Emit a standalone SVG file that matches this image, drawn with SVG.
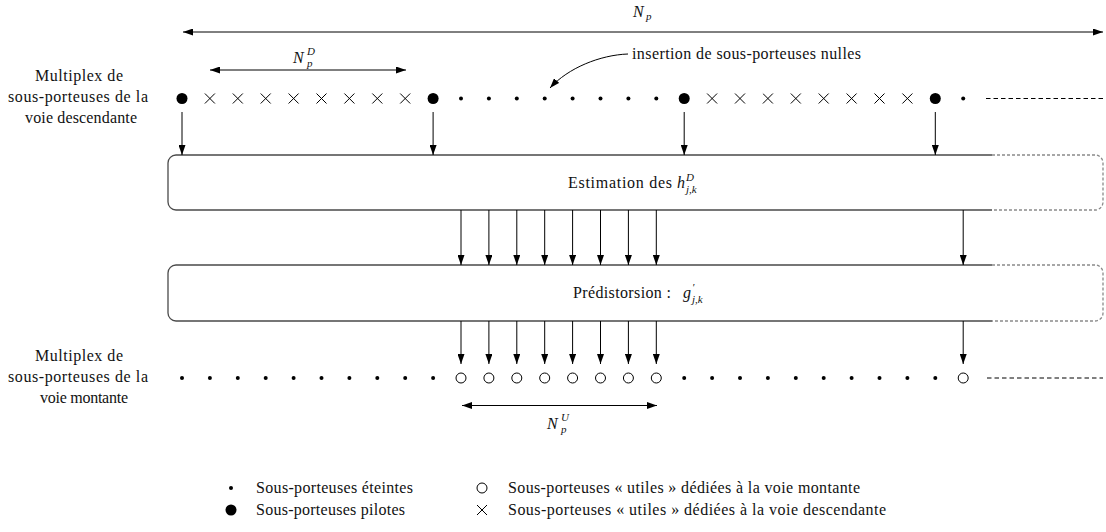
<svg xmlns="http://www.w3.org/2000/svg" width="1106" height="532" viewBox="0 0 1106 532">
<defs>
<style>
text{font-family:'Liberation Serif','DejaVu Serif',serif}
.t{font-size:16px;fill:#111}
.m{font-style:italic;font-size:16px;fill:#111}
.s{font-style:italic;font-size:11px;fill:#111}
.ar{stroke:#000;stroke-width:1;fill:none;marker-end:url(#ah)}
.dar{stroke:#000;stroke-width:1;fill:none;marker-end:url(#ah);marker-start:url(#ahs)}
.box{stroke:#4a4a4a;stroke-width:1.3;fill:none}
.boxd{stroke:#8a8a8a;stroke-width:1.3;fill:none;stroke-dasharray:3 2}
.dash{stroke:#000;stroke-width:1;fill:none;stroke-dasharray:4.5 3}
</style>
<marker id="ah" viewBox="0 0 10 7" refX="10" refY="3.5" markerWidth="10" markerHeight="7" markerUnits="userSpaceOnUse" orient="auto"><path d="M0,0 L10,3.5 L0,7 z" fill="#000"/></marker>
<marker id="ahs" viewBox="0 0 10 7" refX="10" refY="3.5" markerWidth="10" markerHeight="7" markerUnits="userSpaceOnUse" orient="auto-start-reverse"><path d="M0,0 L10,3.5 L0,7 z" fill="#000"/></marker>
<circle id="pil" r="5.5" fill="#000"/>
<circle id="dot" r="2" fill="#000"/>
<circle id="hol" r="5" fill="none" stroke="#000" stroke-width="1"/>
<path id="crs" d="M-5,-5 L5,5 M-5,5 L5,-5" stroke="#000" stroke-width="1" fill="none"/>
</defs>
<rect width="1106" height="532" fill="#fff"/>

<g id="dimension-Np">
<text class="m" x="633" y="17">N</text><text class="s" x="646" y="20">p</text>
</g>
<g id="dimension-NpD">
<text class="m" x="293" y="63">N</text><text class="s" x="307" y="55">D</text><text class="s" x="307" y="67">p</text>
</g>
<g id="dimension-NpU">
<text class="m" x="547" y="429">N</text><text class="s" x="561" y="421">U</text><text class="s" x="561" y="433">p</text>
</g>
<g id="annotation-insertion">
<text class="t" x="632" y="59" textLength="229" lengthAdjust="spacing">insertion de sous-porteuses nulles</text>
</g>

<g id="label-down">
<text class="t" x="79" y="81" text-anchor="middle" textLength="88" lengthAdjust="spacing">Multiplex de</text>
<text class="t" x="78" y="102" text-anchor="middle" textLength="140" lengthAdjust="spacing">sous-porteuses de la</text>
<text class="t" x="81" y="123" text-anchor="middle" textLength="112" lengthAdjust="spacing">voie descendante</text>
</g>
<g id="label-up">
<text class="t" x="79" y="361" text-anchor="middle" textLength="88" lengthAdjust="spacing">Multiplex de</text>
<text class="t" x="78" y="382" text-anchor="middle" textLength="140" lengthAdjust="spacing">sous-porteuses de la</text>
<text class="t" x="84" y="403" text-anchor="middle" textLength="88" lengthAdjust="spacing">voie montante</text>
</g>

<g id="row-down">
<use href="#pil" x="182" y="98.5"/>
<use href="#crs" x="209.9" y="98.5"/><use href="#crs" x="237.8" y="98.5"/><use href="#crs" x="265.7" y="98.5"/><use href="#crs" x="293.6" y="98.5"/>
<use href="#crs" x="321.5" y="98.5"/><use href="#crs" x="349.4" y="98.5"/><use href="#crs" x="377.3" y="98.5"/><use href="#crs" x="405.2" y="98.5"/>
<use href="#pil" x="433.1" y="98.5"/>
<use href="#dot" x="461" y="98.5"/><use href="#dot" x="488.9" y="98.5"/><use href="#dot" x="516.8" y="98.5"/><use href="#dot" x="544.7" y="98.5"/>
<use href="#dot" x="572.6" y="98.5"/><use href="#dot" x="600.5" y="98.5"/><use href="#dot" x="628.4" y="98.5"/><use href="#dot" x="656.3" y="98.5"/>
<use href="#pil" x="684.2" y="98.5"/>
<use href="#crs" x="712.1" y="98.5"/><use href="#crs" x="740" y="98.5"/><use href="#crs" x="767.9" y="98.5"/><use href="#crs" x="795.8" y="98.5"/>
<use href="#crs" x="823.7" y="98.5"/><use href="#crs" x="851.6" y="98.5"/><use href="#crs" x="879.5" y="98.5"/><use href="#crs" x="907.4" y="98.5"/>
<use href="#pil" x="935.3" y="98.5"/>
<use href="#dot" x="963.2" y="98.5"/>
<line class="dash" x1="986" y1="98.5" x2="1103" y2="98.5"/>
</g>

<g id="row-up">
<use href="#dot" x="182" y="378"/><use href="#dot" x="209.9" y="378"/><use href="#dot" x="237.8" y="378"/><use href="#dot" x="265.7" y="378"/><use href="#dot" x="293.6" y="378"/>
<use href="#dot" x="321.5" y="378"/><use href="#dot" x="349.4" y="378"/><use href="#dot" x="377.3" y="378"/><use href="#dot" x="405.2" y="378"/><use href="#dot" x="433.1" y="378"/>
<use href="#hol" x="461" y="378"/><use href="#hol" x="488.9" y="378"/><use href="#hol" x="516.8" y="378"/><use href="#hol" x="544.7" y="378"/>
<use href="#hol" x="572.6" y="378"/><use href="#hol" x="600.5" y="378"/><use href="#hol" x="628.4" y="378"/><use href="#hol" x="656.3" y="378"/>
<use href="#dot" x="684.2" y="378"/><use href="#dot" x="712.1" y="378"/><use href="#dot" x="740" y="378"/><use href="#dot" x="767.9" y="378"/><use href="#dot" x="795.8" y="378"/>
<use href="#dot" x="823.7" y="378"/><use href="#dot" x="851.6" y="378"/><use href="#dot" x="879.5" y="378"/><use href="#dot" x="907.4" y="378"/><use href="#dot" x="935.3" y="378"/>
<use href="#hol" x="963.2" y="378"/>
<line class="dash" x1="987" y1="378" x2="1103" y2="378"/>
</g>

<g id="box-estimation">
<path class="box" d="M992,155 H176 A8,8 0 0 0 168,163 V202 A8,8 0 0 0 176,210 H992"/>
<path class="boxd" d="M992,155 H1095 A8,8 0 0 1 1103,163 V202 A8,8 0 0 1 1095,210 H992"/>
<text class="t" x="568" y="188" textLength="104" lengthAdjust="spacing">Estimation des</text>
<text class="m" x="677" y="188">h</text><text class="s" x="686" y="181">D</text><text class="s" x="686" y="193">j,k</text>
</g>

<g id="box-predistorsion">
<path class="box" d="M992,265 H176 A8,8 0 0 0 168,273 V313 A8,8 0 0 0 176,321 H992"/>
<path class="boxd" d="M992,265 H1095 A8,8 0 0 1 1103,273 V313 A8,8 0 0 1 1095,321 H992"/>
<text class="t" x="573" y="298" textLength="98" lengthAdjust="spacing">Prédistorsion :</text>
<text class="m" x="683" y="298">g</text><text class="s" x="692" y="291">′</text><text class="s" x="692" y="303">j,k</text>
</g>

<g id="connectors">
<line class="dar" x1="183" y1="32" x2="1103" y2="32"/>
<line class="dar" x1="210" y1="70" x2="406" y2="70"/>
<line class="dar" x1="462" y1="405.5" x2="657" y2="405.5"/>
<path class="ar" d="M628,54 C600,55 568,68 550,88"/>
<line class="ar" x1="182" y1="112" x2="182" y2="155"/>
<line class="ar" x1="433.1" y1="112" x2="433.1" y2="155"/>
<line class="ar" x1="684.2" y1="112" x2="684.2" y2="155"/>
<line class="ar" x1="935.3" y1="112" x2="935.3" y2="155"/>
<line class="ar" x1="461" y1="210" x2="461" y2="265"/>
<line class="ar" x1="488.9" y1="210" x2="488.9" y2="265"/>
<line class="ar" x1="516.8" y1="210" x2="516.8" y2="265"/>
<line class="ar" x1="544.7" y1="210" x2="544.7" y2="265"/>
<line class="ar" x1="572.6" y1="210" x2="572.6" y2="265"/>
<line class="ar" x1="600.5" y1="210" x2="600.5" y2="265"/>
<line class="ar" x1="628.4" y1="210" x2="628.4" y2="265"/>
<line class="ar" x1="656.3" y1="210" x2="656.3" y2="265"/>
<line class="ar" x1="963.2" y1="210" x2="963.2" y2="265"/>
<line class="ar" x1="461" y1="321" x2="461" y2="364"/>
<line class="ar" x1="488.9" y1="321" x2="488.9" y2="364"/>
<line class="ar" x1="516.8" y1="321" x2="516.8" y2="364"/>
<line class="ar" x1="544.7" y1="321" x2="544.7" y2="364"/>
<line class="ar" x1="572.6" y1="321" x2="572.6" y2="364"/>
<line class="ar" x1="600.5" y1="321" x2="600.5" y2="364"/>
<line class="ar" x1="628.4" y1="321" x2="628.4" y2="364"/>
<line class="ar" x1="656.3" y1="321" x2="656.3" y2="364"/>
<line class="ar" x1="963.2" y1="321" x2="963.2" y2="364"/>
</g>

<g id="legend">
<use href="#dot" x="231" y="488"/>
<text class="t" x="256" y="493" textLength="157" lengthAdjust="spacing">Sous-porteuses éteintes</text>
<use href="#pil" x="231" y="510"/>
<text class="t" x="256" y="515" textLength="149" lengthAdjust="spacing">Sous-porteuses pilotes</text>
<use href="#hol" x="482" y="488"/>
<text class="t" x="508" y="493" textLength="352" lengthAdjust="spacing">Sous-porteuses « utiles » dédiées à la voie montante</text>
<use href="#crs" x="482" y="510"/>
<text class="t" x="508" y="515" textLength="378" lengthAdjust="spacing">Sous-porteuses « utiles » dédiées à la voie descendante</text>
</g>
</svg>
